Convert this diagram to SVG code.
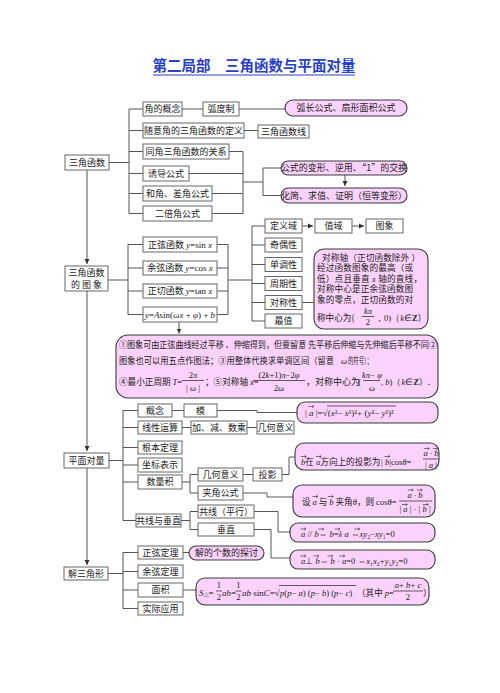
<svg xmlns="http://www.w3.org/2000/svg" width="500" height="693" viewBox="0 0 500 693">
<style>
.b{fill:#fff;stroke:#666;stroke-width:1}
.p{fill:#fbd2fb;stroke:#3a3a3a;stroke-width:1.1}
.c{fill:none;stroke:#555;stroke-width:1}
.t{font-family:"Noto Sans CJK SC","Liberation Sans",sans-serif;font-size:9px;fill:#222;text-anchor:middle}
.l{text-anchor:start}
.f{font-size:8.6px}
.s{font-family:"Liberation Serif",serif}
.i{font-family:"Liberation Serif",serif;font-style:italic}
.bar{stroke:#222;stroke-width:0.7}
</style>
<defs>
<marker id="ar" markerWidth="6" markerHeight="6" refX="5" refY="3" orient="auto" markerUnits="userSpaceOnUse"><path d="M0,0.5 L5,3 L0,5.5 z" fill="#333"/></marker>
<path id="vec" d="M-2.6,0H2.6M1.2,-1.2L2.8,0L1.2,1.2" fill="none" stroke="#222" stroke-width="0.6"/>
</defs>
<rect width="500" height="693" fill="#fff"/>
<g id="title">
<text x="254" y="71" style="font-family:'Noto Sans CJK SC',sans-serif;font-size:14.5px;font-weight:bold;fill:#2a3fc8;text-anchor:middle">第二局部　三角函数与平面对量</text>
<line x1="153" y1="75" x2="355" y2="75" stroke="#2a3fc8" stroke-width="1"/>
</g>
<g id="connectors">
<path class="c" d="M87,170V264" marker-end="url(#ar)"/>
<path class="c" d="M87,291V451" marker-end="url(#ar)"/>
<path class="c" d="M87,468V565" marker-end="url(#ar)"/>
<path class="c" d="M109,162.5H129M129,109V213.5M129,109H143M129,130.5H143M129,151.5H143M129,173.5H143M129,193.5H143M129,213.5H143"/>
<path class="c" d="M182,109H203M239,109H285M244,130.5H258"/>
<path class="c" d="M229,151.5H243M189,173.5H243M212,193.5H243M212,213.5H243M243,151.5V213.5M243,182H263M263,168V195.5M263,168H281M263,195.5H281"/>
<path class="c" d="M345,175V186" marker-end="url(#ar)"/>
<path class="c" d="M108,280H128M128,244.5V314.5M128,244.5H143M128,268H143M128,291H143M128,314.5H143"/>
<path class="c" d="M217,244.5H228M217,268H228M217,291H228M217,314.5H228M228,244.5V314.5M228,280H252M252,226V321M252,226H265M252,245H265M252,264.5H265M252,283.5H265M252,302.5H265M252,321H265"/>
<path class="c" d="M302,226H313" marker-end="url(#ar)"/>
<path class="c" d="M352,226H364" marker-end="url(#ar)"/>
<path class="c" d="M302,302.5H314"/>
<path class="c" d="M179,322V333.5" marker-end="url(#ar)"/>
<path class="c" d="M109,460.5H123M123,410.5V520.5M123,410.5H138M123,427.5H138M123,447.5H138M123,465H138M123,482H138M123,520.5H136"/>
<path class="c" d="M172,410.5H184M217,410.5H257V412.5H297M182,427.5H191M247,427.5H257"/>
<path class="c" d="M182,482H190M190,474.5V493M190,474.5H198M190,493H198M243,474.5H253M282,474.5H289V457H295M243,493H267V497H293"/>
<path class="c" d="M181,520.5H190M190,511.5V529.5M190,511.5H198M190,529.5H198M254,511.5H278V532H290M254,529.5H271V558H290"/>
<path class="c" d="M108,573.5H123M123,552.5V608.5M123,552.5H138M123,571.5H138M123,590H138M123,608.5H138M183,552.5H189M183,590H196"/>
</g>
<g id="n_sjhs"><rect class="b" x="65" y="155" width="44" height="15"/><text class="t" x="87" y="165.7">三角函数</text></g>
<g id="n_jdgn"><rect class="b" x="143" y="102" width="39" height="14"/><text class="t" x="162.5" y="112.2">角的概念</text></g>
<g id="n_hdz"><rect class="b" x="203" y="102" width="36" height="14"/><text class="t" x="221" y="112.2">弧度制</text></g>
<g id="n_hc"><rect class="p" x="285" y="100" width="122" height="16" rx="8"/><text class="t" x="346" y="111.2">弧长公式、扇形面积公式</text></g>
<g id="n_rydy"><rect class="b" x="143" y="123" width="101" height="15"/><text class="t" x="193.5" y="133.7">随意角的三角函数的定义</text></g>
<g id="n_sjhsx"><rect class="b" x="258" y="125" width="51" height="13"/><text class="t" x="283.5" y="134.7">三角函数线</text></g>
<g id="n_tj"><rect class="b" x="143" y="144" width="86" height="15"/><text class="t" x="186" y="154.7">同角三角函数的关系</text></g>
<g id="n_yd"><rect class="b" x="143" y="166" width="46" height="15"/><text class="t" x="166" y="176.7">诱导公式</text></g>
<g id="n_hjcj"><rect class="b" x="143" y="186" width="69" height="15"/><text class="t" x="177.5" y="196.7">和角、差角公式</text></g>
<g id="n_eb"><rect class="b" x="143" y="206" width="69" height="15"/><text class="t" x="177.5" y="216.7">二倍角公式</text></g>
<g id="n_gsbx"><rect class="p" x="281" y="161" width="126" height="14" rx="7"/><text class="t" x="344" y="171.2">公式的变形、逆用、“1”的交换</text></g>
<g id="n_hjqz"><rect class="p" x="281" y="188" width="126" height="15" rx="7.5"/><text class="t" x="344" y="198.7">化简、求值、证明（恒等变形）</text></g>
<g id="n_tx"><rect class="b" x="65" y="266" width="43" height="25"/><text class="t" x="86.5" y="275.5">三角函数</text><text class="t" x="86.5" y="287.8">的 图 象</text></g>
<g id="n_sin"><rect class="b" x="143" y="237" width="74" height="15"/><text class="t" x="180" y="247.7">正弦函数 <tspan class="i">y</tspan><tspan class="s">=sin </tspan><tspan class="i">x</tspan></text></g>
<g id="n_cos"><rect class="b" x="143" y="261" width="74" height="14"/><text class="t" x="180" y="271.2">余弦函数 <tspan class="i">y</tspan><tspan class="s">=cos </tspan><tspan class="i">x</tspan></text></g>
<g id="n_tan"><rect class="b" x="143" y="284" width="74" height="14"/><text class="t" x="180" y="294.2">正切函数 <tspan class="i">y</tspan><tspan class="s">=tan </tspan><tspan class="i">x</tspan></text></g>
<g id="n_asin"><rect class="b" x="143" y="307" width="74" height="15"/><text class="t" x="180" y="317.7"><tspan class="i">y</tspan><tspan class="s">=</tspan><tspan class="i">A</tspan><tspan class="s">sin(</tspan><tspan class="i">ωx</tspan><tspan class="s"> + </tspan><tspan class="i">φ</tspan><tspan class="s">) + </tspan><tspan class="i">b</tspan></text></g>
<g id="n_dyy"><rect class="b" x="265" y="219" width="37" height="14"/><text class="t" x="283.5" y="229.2">定义域</text></g>
<g id="n_zy"><rect class="b" x="315" y="219" width="37" height="14"/><text class="t" x="333.5" y="229.2">值域</text></g>
<g id="n_tx2"><rect class="b" x="366" y="219" width="37" height="14"/><text class="t" x="384.5" y="229.2">图象</text></g>
<g id="n_jox"><rect class="b" x="265" y="238" width="37" height="14"/><text class="t" x="283.5" y="248.2">奇偶性</text></g>
<g id="n_ddx"><rect class="b" x="265" y="257.5" width="37" height="14"/><text class="t" x="283.5" y="267.7">单调性</text></g>
<g id="n_zqx"><rect class="b" x="265" y="276.5" width="37" height="14"/><text class="t" x="283.5" y="286.7">周期性</text></g>
<g id="n_dcx"><rect class="b" x="265" y="295.5" width="37" height="14"/><text class="t" x="283.5" y="305.7">对称性</text></g>
<g id="n_zz"><rect class="b" x="265" y="314" width="37" height="14"/><text class="t" x="283.5" y="324.2">最值</text></g>
<g id="n_dcz">
<rect class="p" x="314" y="249" width="114" height="80" rx="10"/>
<text class="t l f" x="322" y="260.5" textLength="98">对称轴（正切函数除外 ）</text>
<text class="t l f" x="317" y="271" textLength="96">经过函数图象的最高（或</text>
<text class="t l f" x="317" y="281.5" textLength="105">低）点且垂直 <tspan class="i">x</tspan> 轴的直线，</text>
<text class="t l f" x="317" y="292" textLength="96">对称中心是正余弦函数图</text>
<text class="t l f" x="317" y="302.5" textLength="96">象的零点，正切函数的对</text>
<text class="t l f" x="317" y="320.5">称中心为(</text>
<text class="t f i" x="368" y="313.5">kπ</text><line class="bar" x1="362" y1="316.5" x2="374" y2="316.5"/><text class="t f s" x="368" y="325">2</text>
<text class="t l f" x="375" y="320.5"><tspan class="s">，0)（</tspan><tspan class="i">k</tspan><tspan class="s">∈</tspan><tspan class="s" font-weight="bold">Z</tspan>）</text>
</g>
<g id="n_big">
<rect class="p" x="116" y="335" width="322" height="63" rx="12"/>
<text class="t l f" x="119" y="348" textLength="318" lengthAdjust="spacingAndGlyphs">①图象可由正弦曲线经过平移 、伸缩得到，但要留意 先平移后伸缩与先伸缩后平移不同②</text>
<text class="t l f" x="119" y="363.5" textLength="215" lengthAdjust="spacingAndGlyphs">图象也可以用五点作图法；③用整体代换求单调区间（留意</text>
<text class="t l f i" x="341" y="363.5">ω</text>
<text class="t l f" x="348" y="363.5" textLength="24" lengthAdjust="spacingAndGlyphs">的符号）；</text>
<text class="t l f" x="119" y="385">④最小正周期 <tspan class="i">T</tspan><tspan class="s">=</tspan></text>
<text class="t f s" x="193" y="378">2<tspan class="i">π</tspan></text><line class="bar" x1="182" y1="380.5" x2="204" y2="380.5"/><text class="t f s" x="193" y="390.5">| <tspan class="i">ω</tspan> |</text>
<text class="t l f" x="205" y="385">；⑤对称轴 <tspan class="i">x</tspan><tspan class="s">=</tspan></text>
<text class="t f s" x="279" y="378">(2<tspan class="i">k</tspan>+1)<tspan class="i">π</tspan>−2<tspan class="i">φ</tspan></text><line class="bar" x1="253" y1="380.5" x2="305" y2="380.5"/><text class="t f s" x="279" y="390.5">2<tspan class="i">ω</tspan></text>
<text class="t l" x="306" y="385" font-size="8px">，对称中心为</text>
<text class="t l s" x="358" y="385">(</text>
<text class="t f s" x="372" y="378"><tspan class="i">kπ</tspan>− <tspan class="i">φ</tspan></text><line class="bar" x1="363" y1="380.5" x2="380" y2="380.5"/><text class="t f i" x="372" y="390.5">ω</text>
<text class="t l f" x="381" y="385"><tspan class="s">, </tspan><tspan class="i">b</tspan><tspan class="s">)（</tspan><tspan class="i">k</tspan><tspan class="s">∈</tspan><tspan class="s" font-weight="bold">Z</tspan>）.</text>
</g>
<g id="n_pmdl"><rect class="b" x="64" y="453" width="45" height="15"/><text class="t" x="86.5" y="463.7">平面对量</text></g>
<g id="n_gn"><rect class="b" x="138" y="404" width="34" height="13"/><text class="t" x="155" y="413.7">概念</text></g>
<g id="n_m"><rect class="b" x="184" y="404" width="33" height="13"/><text class="t" x="200.5" y="413.7">模</text></g>
<g id="n_mod">
<rect class="p" x="297" y="402" width="141" height="21" rx="8"/>
<text class="t l s" x="305" y="416">| <tspan class="i">a</tspan> |=√(<tspan class="i">x</tspan>²− <tspan class="i">x</tspan>¹)²+ (<tspan class="i">y</tspan>²− <tspan class="i">y</tspan>¹)²</text>
<line class="bar" x1="327" y1="406" x2="396" y2="406"/>
<use href="#vec" x="311" y="406.5"/>
</g>
<g id="n_xxys"><rect class="b" x="138" y="421" width="44" height="13"/><text class="t" x="160" y="430.7">线性运算</text></g>
<g id="n_jjsc"><rect class="b" x="191" y="421" width="56" height="13"/><text class="t" x="219" y="430.7">加、减、数乘</text></g>
<g id="n_jhyy1"><rect class="b" x="257" y="421" width="37" height="13"/><text class="t" x="275.5" y="430.7">几何意义</text></g>
<g id="n_gbdl"><rect class="b" x="138" y="441" width="44" height="13"/><text class="t" x="160" y="450.7">根本定理</text></g>
<g id="n_zbbs"><rect class="b" x="138" y="458" width="44" height="14"/><text class="t" x="160" y="468.2">坐标表示</text></g>
<g id="n_slj"><rect class="b" x="138" y="475" width="44" height="14"/><text class="t" x="160" y="485.2">数量积</text></g>
<g id="n_jhyy2"><rect class="b" x="198" y="468" width="45" height="13"/><text class="t" x="220.5" y="477.7">几何意义</text></g>
<g id="n_jjgs"><rect class="b" x="198" y="486" width="45" height="14"/><text class="t" x="220.5" y="496.2">夹角公式</text></g>
<g id="n_ty"><rect class="b" x="253" y="468" width="29" height="13"/><text class="t" x="267.5" y="477.7">投影</text></g>
<g id="n_tyf">
<rect class="p" x="295" y="443" width="144" height="27" rx="9"/>
<text class="t l f" x="301" y="465"><tspan class="i">b</tspan>在</text>
<text class="t l f" x="316" y="465"><tspan class="i">a</tspan>方向上的投影为</text>
<text class="t l f s" x="381" y="465">| <tspan class="i">b</tspan>|cos<tspan class="i">θ</tspan>=</text>
<use href="#vec" x="303.5" y="456.5"/><use href="#vec" x="318.5" y="456.5"/><use href="#vec" x="387" y="456.5"/>
<text class="t f i" x="431" y="456">a <tspan class="s">·</tspan> b</text>
<use href="#vec" x="426.5" y="448.5"/><use href="#vec" x="435.5" y="448.5"/>
<line class="bar" x1="423" y1="459" x2="439" y2="459"/>
<text class="t f s" x="431" y="467.5">| <tspan class="i">a</tspan> |</text>
</g>
<g id="n_jjf">
<rect class="p" x="293" y="485" width="142" height="32" rx="9"/>
<text class="t l f" x="302" y="505">设 <tspan class="i">a</tspan> 与 <tspan class="i">b</tspan> 夹角<tspan class="i">θ</tspan>，则 <tspan class="s">cos</tspan><tspan class="i">θ</tspan><tspan class="s">=</tspan></text>
<use href="#vec" x="315" y="496.5"/><use href="#vec" x="330.5" y="496.5"/>
<text class="t f i" x="415" y="497.5">a <tspan class="s">·</tspan> b</text>
<use href="#vec" x="410.5" y="490"/><use href="#vec" x="419.5" y="490"/>
<line class="bar" x1="399" y1="501" x2="432" y2="501"/>
<text class="t f s" x="415" y="512">| <tspan class="i">a</tspan> | · | <tspan class="i">b</tspan> |</text>
<use href="#vec" x="404.5" y="504.5"/><use href="#vec" x="425.5" y="504.5"/>
</g>
<g id="n_gx"><rect class="b" x="136" y="514" width="45" height="13"/><text class="t" x="158.5" y="523.7">共线与垂直</text></g>
<g id="n_gxpx"><rect class="b" x="198" y="505" width="56" height="13"/><text class="t" x="226" y="514.7">共线（平行）</text></g>
<g id="n_cz"><rect class="b" x="198" y="523" width="56" height="13"/><text class="t" x="226" y="532.7">垂直</text></g>
<g id="n_px">
<rect class="p" x="290" y="523" width="145" height="19" rx="8"/>
<text class="t l f s" x="301" y="537"><tspan class="i">a</tspan> // <tspan class="i">b</tspan>⇔ <tspan class="i">b</tspan>=<tspan class="i">λ a</tspan>  ⇔<tspan class="i">xy</tspan>₂−<tspan class="i">xy</tspan>₁=0</text>
<use href="#vec" x="303" y="529"/><use href="#vec" x="321" y="529"/><use href="#vec" x="337" y="529"/><use href="#vec" x="357" y="529"/>
</g>
<g id="n_cz2">
<rect class="p" x="290" y="550" width="145" height="19" rx="8"/>
<text class="t l f s" x="301" y="564"><tspan class="i">a</tspan>⊥ <tspan class="i">b</tspan>⇔ <tspan class="i">b</tspan> · <tspan class="i">a</tspan>=0 ⇔<tspan class="i">x</tspan>₁<tspan class="i">x</tspan>₂+<tspan class="i">y</tspan>₁<tspan class="i">y</tspan>₂=0</text>
<use href="#vec" x="303" y="556"/><use href="#vec" x="316" y="556"/><use href="#vec" x="330" y="556"/><use href="#vec" x="342" y="556"/>
</g>
<g id="n_jsjx"><rect class="b" x="64" y="567" width="44" height="13"/><text class="t" x="86" y="576.7">解三角形</text></g>
<g id="n_zxdl"><rect class="b" x="138" y="546" width="45" height="13"/><text class="t" x="160.5" y="555.7">正弦定理</text></g>
<g id="n_yxdl"><rect class="b" x="138" y="565" width="45" height="13"/><text class="t" x="160.5" y="574.7">余弦定理</text></g>
<g id="n_mj"><rect class="b" x="138" y="583" width="45" height="14"/><text class="t" x="160.5" y="593.2">面积</text></g>
<g id="n_sjyy"><rect class="b" x="138" y="602" width="45" height="13"/><text class="t" x="160.5" y="611.7">实际应用</text></g>
<g id="n_jdgs"><rect class="p" x="189" y="546" width="75" height="14" rx="7"/><text class="t" x="226.5" y="556.2">解的个数的探讨</text></g>
<g id="n_mjf">
<rect class="p" x="196" y="578" width="233" height="27" rx="9"/>
<text class="t l s" x="199" y="596"><tspan class="i">S</tspan><tspan font-size="6px">△</tspan>=</text>
<text class="t f s" x="219" y="588">1</text><line class="bar" x1="216" y1="591" x2="222" y2="591"/><text class="t f s" x="219" y="600">2</text>
<text class="t l s" x="222" y="596"><tspan class="i">ah</tspan>=</text>
<text class="t f s" x="238.5" y="588">1</text><line class="bar" x1="235.5" y1="591" x2="241.5" y2="591"/><text class="t f s" x="238.5" y="600">2</text>
<text class="t l s" x="242" y="596"><tspan class="i">ab</tspan> sin<tspan class="i">C</tspan>=√</text>
<line class="bar" x1="279" y1="585.5" x2="356" y2="585.5"/>
<text class="t l f s" x="280" y="596"><tspan class="i">p</tspan>(<tspan class="i">p</tspan>− <tspan class="i">a</tspan>) (<tspan class="i">p</tspan>− <tspan class="i">b</tspan>) (<tspan class="i">p</tspan>− <tspan class="i">c</tspan>)</text>
<text class="t l f" x="357" y="596">（其中 <tspan class="i">p</tspan><tspan class="s">=</tspan></text>
<text class="t f s" x="408" y="588"><tspan class="i">a</tspan>+ <tspan class="i">b</tspan>+ <tspan class="i">c</tspan></text><line class="bar" x1="393" y1="591" x2="423" y2="591"/><text class="t f s" x="408" y="600">2</text>
<text class="t l f" x="423" y="596">）</text>
</g>
</svg>
